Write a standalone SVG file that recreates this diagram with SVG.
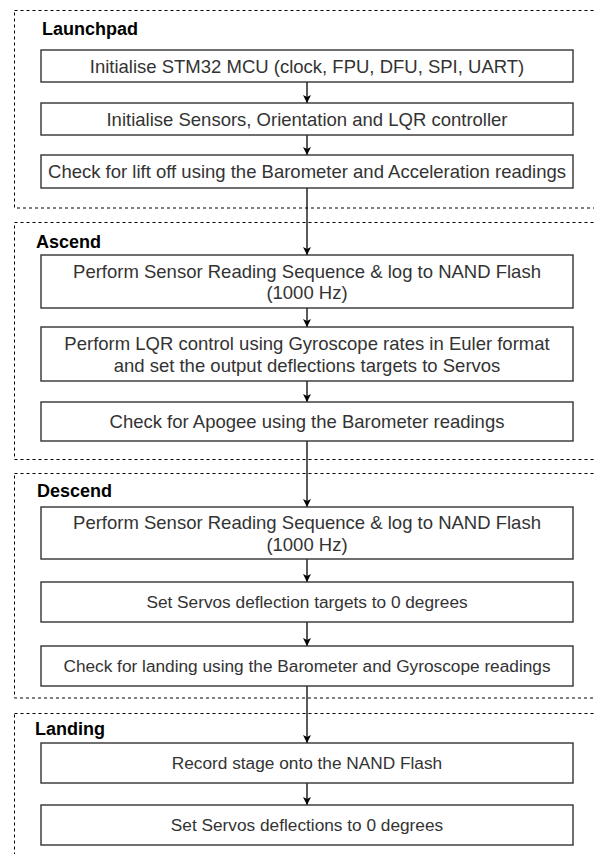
<svg xmlns="http://www.w3.org/2000/svg" width="594" height="854" viewBox="0 0 594 854">
  <defs>
    <marker id="arrow" viewBox="0 0 10 10" refX="10" refY="5" markerWidth="8" markerHeight="8" markerUnits="userSpaceOnUse" orient="auto">
      <path d="M0,0 L10,5 L0,10 L2.5,5 Z" fill="#000"/>
    </marker>
  </defs>
  <style>
    .stage { fill: none; stroke: #000; stroke-width: 1; stroke-dasharray: 3 3; }
    .stage-title { font-family: "Liberation Sans", Arial, sans-serif; font-size: 18px; font-weight: bold; fill: #000; }
    .step rect { fill: #fff; stroke: #333; stroke-width: 1.4; }
    .step text { font-family: "Liberation Sans", Arial, sans-serif; font-size: 18.5px; fill: #333; text-anchor: middle; }
    .step.small text { font-size: 17.25px; }
    .link { stroke: #000; stroke-width: 1.3; fill: none; marker-end: url(#arrow); }
  </style>
  <rect width="594" height="854" fill="#fff"/>

  <!-- stage containers -->
  <g id="stage-launchpad">
    <rect class="stage" x="14.5" y="10.5" width="600" height="197.5"/>
    <text class="stage-title" x="42" y="35">Launchpad</text>
  </g>
  <g id="stage-ascend">
    <rect class="stage" x="14.5" y="222.5" width="600" height="237"/>
    <text class="stage-title" x="36" y="248">Ascend</text>
  </g>
  <g id="stage-descend">
    <rect class="stage" x="14.5" y="473.5" width="600" height="224.5"/>
    <text class="stage-title" x="37" y="497">Descend</text>
  </g>
  <g id="stage-landing">
    <rect class="stage" x="14.5" y="713.5" width="600" height="200"/>
    <text class="stage-title" x="35" y="735">Landing</text>
  </g>

  <!-- connectors -->
  <g id="connectors">
    <line class="link" x1="307" y1="82" x2="307" y2="103"/>
    <line class="link" x1="307" y1="135" x2="307" y2="155"/>
    <line class="link" x1="307" y1="188" x2="307" y2="255"/>
    <line class="link" x1="307" y1="308" x2="307" y2="327"/>
    <line class="link" x1="307" y1="381" x2="307" y2="402"/>
    <line class="link" x1="307" y1="441" x2="307" y2="507"/>
    <line class="link" x1="307" y1="559" x2="307" y2="582"/>
    <line class="link" x1="307" y1="622" x2="307" y2="646"/>
    <line class="link" x1="307" y1="686" x2="307" y2="743"/>
    <line class="link" x1="307" y1="783" x2="307" y2="805"/>
  </g>

  <!-- Launchpad steps -->
  <g id="init-mcu" class="step">
    <rect x="41" y="50" width="532" height="32"/>
    <text x="307" y="72.5">Initialise STM32 MCU (clock, FPU, DFU, SPI, UART)</text>
  </g>
  <g id="init-sensors" class="step">
    <rect x="41" y="103" width="532" height="32"/>
    <text x="307" y="125.5">Initialise Sensors, Orientation and LQR controller</text>
  </g>
  <g id="check-liftoff" class="step">
    <rect x="41" y="155" width="532" height="33"/>
    <text x="307" y="178">Check for lift off using the Barometer and Acceleration readings</text>
  </g>

  <!-- Ascend steps -->
  <g id="ascend-sensors" class="step">
    <rect x="41" y="255" width="532" height="53"/>
    <text x="307" y="277.5">Perform Sensor Reading Sequence &amp; log to NAND Flash</text>
    <text x="307" y="299">(1000 Hz)</text>
  </g>
  <g id="ascend-lqr" class="step">
    <rect x="41" y="327" width="532" height="54"/>
    <text x="307" y="350">Perform LQR control using Gyroscope rates in Euler format</text>
    <text x="307" y="371.5">and set the output deflections targets to Servos</text>
  </g>
  <g id="check-apogee" class="step">
    <rect x="41" y="402" width="532" height="39"/>
    <text x="307" y="428">Check for Apogee using the Barometer readings</text>
  </g>

  <!-- Descend steps -->
  <g id="descend-sensors" class="step">
    <rect x="41" y="507" width="532" height="52"/>
    <text x="307" y="529">Perform Sensor Reading Sequence &amp; log to NAND Flash</text>
    <text x="307" y="550.5">(1000 Hz)</text>
  </g>
  <g id="servos-zero-targets" class="step small">
    <rect x="41" y="582" width="532" height="40"/>
    <text x="307" y="608">Set Servos deflection targets to 0 degrees</text>
  </g>
  <g id="check-landing" class="step small">
    <rect x="41" y="646" width="532" height="40"/>
    <text x="307" y="672">Check for landing using the Barometer and Gyroscope readings</text>
  </g>

  <!-- Landing steps -->
  <g id="record-stage" class="step small">
    <rect x="41" y="743" width="532" height="40"/>
    <text x="307" y="769">Record stage onto the NAND Flash</text>
  </g>
  <g id="servos-zero" class="step small">
    <rect x="41" y="805" width="532" height="40"/>
    <text x="307" y="831">Set Servos deflections to 0 degrees</text>
  </g>
</svg>
